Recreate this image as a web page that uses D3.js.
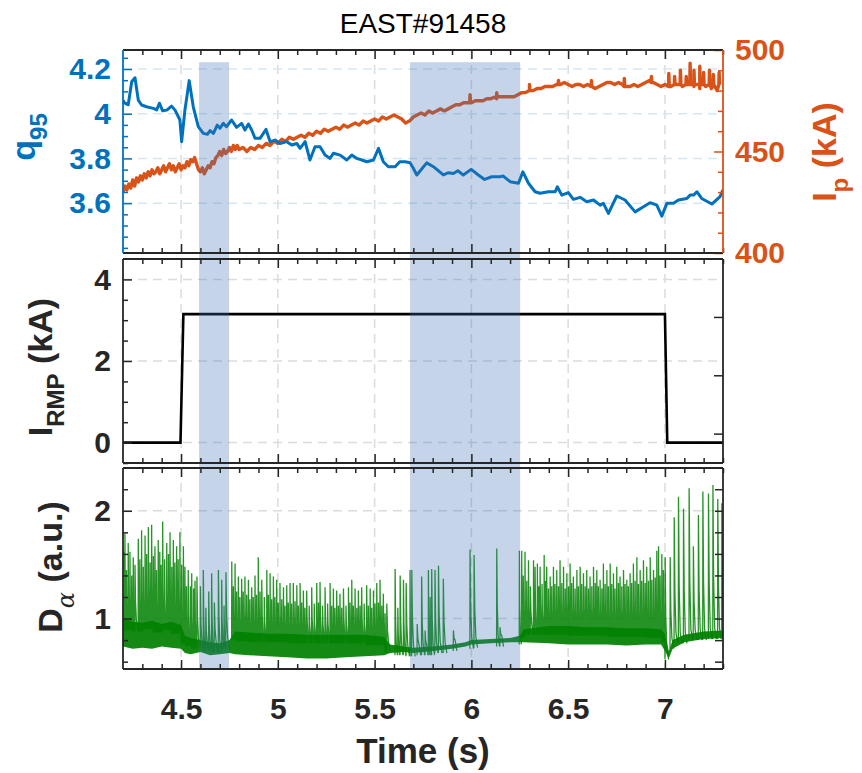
<!DOCTYPE html>
<html><head><meta charset="utf-8">
<script src="https://cdn.jsdelivr.net/npm/d3@7"></script>
<style>
body{margin:0;background:#fff}
svg{display:block}
text{font-family:"Liberation Sans",Arial,Helvetica,sans-serif}
</style>
</head><body>
<svg id="c" width="862" height="773"></svg>
<script>
// ---------------- DATA ----------------
const title = "EAST#91458";
const xTicks = [4.5, 5, 5.5, 6, 6.5, 7];
const qTicks = [3.6, 3.8, 4, 4.2];
const ipTicks = [400, 450, 500];
const rmpTicks = [0, 2, 4];
const rmpRightTicks = [0.22, 1.65, 3.08];
const daTicks = [1, 2];
const shadeStart = [4.593, 5.683];
const shadeEnd = [4.748, 6.252];

// q95 (blue, left axis of top panel)
const qTime = [4.20,4.21,4.227,4.245,4.262,4.279,4.296,4.322,4.357,4.374,4.388,4.405,4.426,4.451,4.469,4.494,4.503,4.52,4.542,4.563,4.589,4.615,4.636,4.65,4.667,4.687,4.701,4.718,4.735,4.761,4.787,4.813,4.83,4.848,4.865,4.882,4.908,4.939,4.96,4.986,5.011,5.046,5.072,5.098,5.115,5.141,5.166,5.192,5.218,5.244,5.27,5.287,5.322,5.356,5.382,5.408,5.434,5.46,5.494,5.52,5.545,5.571,5.606,5.63,5.658,5.683,5.70,5.718,5.769,5.804,5.855,5.88,5.907,5.93,5.958,5.999,6.036,6.068,6.105,6.148,6.165,6.2,6.243,6.266,6.295,6.329,6.355,6.398,6.433,6.444,6.467,6.501,6.527,6.562,6.596,6.631,6.665,6.682,6.708,6.751,6.794,6.846,6.889,6.923,6.958,6.984,7.01,7.044,7.07,7.113,7.13,7.148,7.165,7.19,7.242,7.285,7.30];
const qValue = [4.06,4.047,4.04,4.143,4.161,4.061,4.039,4.031,4.024,4.017,4.047,4.013,4.016,4.034,4.016,3.972,3.875,4.017,4.148,4.031,3.942,3.912,3.908,3.924,3.912,3.949,3.935,3.957,3.942,3.972,3.939,3.957,3.927,3.954,3.927,3.89,3.89,3.93,3.875,3.882,3.867,3.875,3.86,3.867,3.845,3.875,3.793,3.852,3.852,3.815,3.80,3.823,3.815,3.793,3.815,3.80,3.793,3.785,3.793,3.845,3.785,3.763,3.763,3.785,3.785,3.781,3.756,3.726,3.78,3.763,3.726,3.736,3.733,3.745,3.726,3.751,3.726,3.706,3.718,3.718,3.721,3.696,3.689,3.74,3.689,3.651,3.644,3.651,3.651,3.673,3.636,3.647,3.617,3.626,3.606,3.614,3.591,3.599,3.554,3.632,3.614,3.561,3.584,3.602,3.591,3.542,3.599,3.599,3.614,3.621,3.636,3.636,3.651,3.621,3.596,3.629,3.66];

// Ip (orange, right axis of top panel), kA
const ipTime = [4.20,4.21,4.22,4.23,4.24,4.25,4.26,4.27,4.28,4.29,4.30,4.31,4.32,4.33,4.34,4.35,4.36,4.37,4.38,4.39,4.40,4.41,4.42,4.43,4.44,4.45,4.46,4.47,4.48,4.49,4.50,4.51,4.52,4.53,4.54,4.55,4.56,4.57,4.58,4.59,4.60,4.61,4.62,4.63,4.64,4.65,4.66,4.67,4.68,4.69,4.70,4.71,4.72,4.73,4.74,4.75,4.76,4.77,4.78,4.79,4.80,4.82,4.84,4.86,4.88,4.90,4.92,4.94,4.96,4.98,5.00,5.02,5.04,5.06,5.08,5.10,5.12,5.14,5.16,5.18,5.20,5.22,5.24,5.26,5.28,5.30,5.32,5.34,5.36,5.38,5.40,5.42,5.44,5.46,5.48,5.50,5.52,5.54,5.56,5.58,5.60,5.62,5.64,5.66,5.68,5.70,5.72,5.74,5.76,5.78,5.80,5.82,5.84,5.86,5.88,5.90,5.92,5.94,5.96,5.98,6.00,6.02,6.04,6.06,6.08,6.10,6.13,6.15,6.18,6.20,6.22,6.24,6.26,6.28,6.30,6.32,6.34,6.36,6.38,6.40,6.42,6.44,6.46,6.48,6.50,6.52,6.54,6.56,6.58,6.60,6.62,6.64,6.66,6.68,6.70,6.72,6.74,6.76,6.78,6.80,6.82,6.84,6.86,6.88,6.90,6.92,6.94,6.96,6.98,7.00,7.03,7.06,7.09,7.12,7.15,7.18,7.21,7.24,7.27,7.30];
const ipValue = [430,433,431,434,432,436,433,437,435,438,436,439,437,440,438,441,439,440,442,439,441,443,440,442,444,441,443,440,442,444,441,443,442,445,443,446,445,447,444,441,440,442,439,441,443,442,445,444,447,448,450,448,451,449,450,452,450,453,451,453,451,452,450,452,451,453,452,454,453,455,454,456,455,457,456,457,458,457,459,458,460,459,461,460,461,462,461,463,462,463,464,463,465,464,465,466,465,467,466,467,468,467,466,464,465,467,468,469,468,470,469,470,471,470,471,472,473,473,474,474,474,475,475,475,476,476,476,477,477,477,477,478,479,479,480,480,481,481,482,482,482,483,483,484,483,482,483,483,482,483,482,481,482,483,484,484,483,484,483,482,482,483,482,483,484,485,484,483,482,483,482,483,482,483,482,481,482,481,480];
const ipSpikeTime = [5.993,6.131,6.30,6.45,6.62,6.79,6.93,7.02,7.05,7.08,7.11,7.13,7.15,7.18,7.20,7.23,7.25,7.28];
const ipSpikePeak = [478,479,483,485,485,486,487,488.5,487,490,487,493.5,490,492,489,490,488,489];

// I_RMP (black, middle panel), kA
const rmpTime = [4.20,4.497,4.512,7.00,7.012,7.30];
const rmpValue = [0,0,3.15,3.15,0,0];

// D_alpha (green, bottom panel): background band and ELM spikes (a.u.)
const daBandTime = [4.20,4.25,4.30,4.35,4.40,4.45,4.50,4.52,4.55,4.60,4.65,4.70,4.75,4.78,4.85,4.95,5.05,5.15,5.25,5.35,5.45,5.55,5.58,5.65,5.70,5.80,5.90,5.97,6.00,6.10,6.20,6.25,6.27,6.40,6.50,6.60,6.70,6.80,6.90,6.98,7.00,7.02,7.04,7.10,7.20,7.30];
const daBandLow = [0.74,0.72,0.73,0.72,0.74,0.73,0.72,0.68,0.67,0.69,0.66,0.67,0.68,0.67,0.66,0.65,0.64,0.63,0.63,0.64,0.65,0.66,0.68,0.69,0.68,0.70,0.72,0.74,0.76,0.77,0.78,0.78,0.78,0.77,0.76,0.76,0.76,0.75,0.76,0.76,0.70,0.63,0.72,0.78,0.81,0.82];
const daBandHigh = [1.00,0.97,0.96,0.98,0.95,0.97,0.94,0.84,0.82,0.80,0.78,0.77,0.80,0.88,0.87,0.86,0.86,0.85,0.85,0.85,0.85,0.83,0.76,0.74,0.73,0.74,0.76,0.78,0.80,0.81,0.82,0.84,0.90,0.93,0.93,0.92,0.92,0.91,0.91,0.90,0.86,0.70,0.80,0.85,0.88,0.89];
const elmTime = [4.206,4.21,4.218,4.227,4.236,4.245,4.253,4.262,4.279,4.287,4.296,4.305,4.314,4.322,4.331,4.34,4.348,4.357,4.365,4.373,4.382,4.39,4.397,4.405,4.415,4.426,4.435,4.443,4.452,4.46,4.468,4.477,4.485,4.494,4.503,4.512,
4.52,4.528,4.537,4.548,4.555,4.565,4.572,4.582,
4.60,4.615,4.628,4.643,4.658,4.672,4.693,4.71,4.722,4.732,
4.762,4.770,4.779,4.787,4.796,4.804,4.813,4.821,4.83,4.839,4.848,4.856,4.865,4.873,4.882,4.89,4.899,4.908,4.917,4.93,4.943,4.951,4.96,4.968,4.977,4.985,4.994,5.002,5.011,5.02,5.029,5.037,5.046,5.054,5.063,5.071,5.08,5.089,5.098,5.106,5.115,5.123,5.132,5.14,5.149,5.162,5.175,5.188,5.201,5.21,5.218,5.231,5.244,5.257,5.27,5.278,5.287,5.295,5.304,5.313,5.321,5.33,5.339,5.352,5.365,5.373,5.382,5.39,5.399,5.408,5.416,5.425,5.433,5.446,5.459,5.468,5.477,5.485,5.494,5.502,5.511,5.52,5.528,5.537,5.545,5.554,5.563,5.606,5.62,5.632,5.649,5.663,5.683,
5.692,5.72,5.743,5.761,5.778,5.787,5.795,5.812,5.83,5.855,5.907,5.993,6.014,6.131,6.148,6.248,
6.26,6.268,6.277,6.286,6.295,6.305,6.321,6.329,6.341,6.348,6.355,6.365,6.376,6.382,6.389,6.398,6.407,6.415,6.424,6.432,6.441,6.45,6.458,6.467,6.476,6.485,6.493,6.502,6.51,6.518,6.527,6.536,6.545,6.553,6.562,6.57,6.579,6.588,6.596,6.605,6.613,6.622,6.631,6.64,6.648,6.656,6.665,6.674,6.682,6.691,6.70,6.708,6.717,6.725,6.734,6.742,6.751,6.76,6.768,6.777,6.786,6.794,6.803,6.811,6.82,6.828,6.837,6.846,6.855,6.863,6.872,6.88,6.889,6.898,6.906,6.915,6.924,6.932,6.941,6.95,6.958,6.967,6.975,6.984,6.992,7.001,
7.027,7.048,7.07,7.096,7.125,7.147,7.173,7.196,7.225,7.248,7.273,7.294];
const elmPeak = [1.62,1.79,1.45,1.70,1.62,1.40,1.57,1.50,1.74,1.55,1.82,1.48,1.77,1.60,1.85,1.52,1.87,1.58,1.67,1.45,1.73,1.62,1.50,1.90,1.55,1.70,1.60,1.80,1.48,1.73,1.52,1.67,1.55,1.80,1.50,1.67,
1.48,1.30,1.45,1.30,1.42,1.28,1.35,1.39,
1.30,1.45,1.10,1.25,1.42,1.15,1.45,1.36,1.12,1.43,
1.53,1.30,1.51,1.25,1.39,1.20,1.37,1.25,1.39,1.22,1.36,1.18,1.29,1.20,1.40,1.22,1.57,1.25,1.36,1.20,1.45,1.22,1.42,1.18,1.39,1.20,1.36,1.15,1.33,1.18,1.29,1.12,1.31,1.15,1.33,1.14,1.33,1.16,1.31,1.12,1.33,1.15,1.26,1.10,1.26,1.12,1.29,1.14,1.33,1.15,1.34,1.12,1.29,1.14,1.33,1.12,1.28,1.10,1.26,1.12,1.23,1.10,1.28,1.12,1.29,1.15,1.36,1.12,1.28,1.10,1.26,1.12,1.29,1.14,1.31,1.12,1.28,1.10,1.26,1.14,1.33,1.15,1.36,1.12,1.23,1.05,1.14,1.46,1.10,1.40,1.36,1.33,1.45,
1.45,0.95,1.39,0.89,1.45,1.20,1.46,1.45,1.49,1.37,0.89,1.64,1.59,1.65,0.92,1.63,
1.63,1.40,1.62,1.35,1.54,1.30,1.54,1.48,1.51,1.30,1.48,1.32,1.59,1.35,1.48,1.28,1.39,1.30,1.48,1.32,1.45,1.30,1.54,1.33,1.48,1.28,1.42,1.30,1.51,1.33,1.39,1.28,1.45,1.30,1.48,1.32,1.42,1.30,1.45,1.28,1.39,1.30,1.48,1.33,1.45,1.30,1.36,1.28,1.51,1.32,1.45,1.30,1.51,1.32,1.42,1.28,1.48,1.33,1.39,1.30,1.45,1.32,1.36,1.30,1.42,1.33,1.51,1.35,1.57,1.32,1.45,1.35,1.54,1.33,1.48,1.35,1.57,1.36,1.45,1.38,1.63,1.67,1.40,1.60,1.45,1.57,
1.57,1.94,2.13,2.02,2.21,1.67,1.96,2.18,2.16,2.24,2.11,2.07];

// ---------------- CHART ----------------
const C_BLUE = "#0072bd", C_ORANGE = "#d95319", C_DARK = "#262626", C_GREEN = "#008000";
const TICK_FONT = 30, LABEL_FONT = 34, SUB_FONT = 24;
const svg = d3.select("#c");
const x = d3.scaleLinear().domain([4.2, 7.3]).range([123, 723]);
const panels = { top: [50, 253], mid: [259, 463], bot: [468, 669] };
const yQ = d3.scaleLinear().domain([3.377, 4.285]).range([253, 50]);
const yIp = d3.scaleLinear().domain([400, 500]).range([253, 50]);
const yR = d3.scaleLinear().domain([-0.5, 4.5]).range([463, 259]);
const yD = d3.scaleLinear().domain([0.532, 2.397]).range([669, 468]);

const xMinor = d3.range(43, 74).map(d => d / 10).filter(d => !xTicks.some(t => Math.abs(t - d) < 1e-6));

const defs = svg.append("defs");
Object.entries(panels).forEach(([k, [y0, y1]]) => {
  defs.append("clipPath").attr("id", "clip-" + k).append("rect")
    .attr("x", x.range()[0]).attr("y", y0).attr("width", x.range()[1] - x.range()[0]).attr("height", y1 - y0);
});

// grids
const gGrid = svg.append("g");
Object.values(panels).forEach(([y0, y1]) => {
  gGrid.selectAll(null).data(xTicks).enter().append("line")
    .attr("x1", d => x(d)).attr("x2", d => x(d)).attr("y1", y0).attr("y2", y1)
    .attr("stroke", "#dcdcdc").attr("stroke-width", 1.5).attr("stroke-dasharray", "9,6");
});
function hGrid(scale, vals, color) {
  gGrid.selectAll(null).data(vals).enter().append("line")
    .attr("x1", x.range()[0]).attr("x2", x.range()[1]).attr("y1", d => scale(d)).attr("y2", d => scale(d))
    .attr("stroke", color).attr("stroke-width", 1.5).attr("stroke-dasharray", "9,6");
}
hGrid(yQ, qTicks, "#d6e7f4");
hGrid(yR, rmpTicks, "#dcdcdc");
hGrid(yD, daTicks, "#dcdcdc");

// ---- top panel data
const gTop = svg.append("g").attr("clip-path", "url(#clip-top)");
let ipPts = ipTime.map((t, i) => [t, ipValue[i]]);
const bis = d3.bisector(d => d[0]).left;
ipSpikeTime.forEach((t, i) => {
  const j = Math.min(bis(ipPts, t), ipPts.length - 1);
  const base = ipPts[j][1];
  ipPts.push([t - 0.0015, base], [t, ipSpikePeak[i]], [t + 0.0025, base]);
});
ipPts.sort((a, b) => a[0] - b[0]);
gTop.append("path").datum(ipPts)
  .attr("d", d3.line().x(d => x(d[0])).y(d => yIp(d[1])))
  .attr("fill", "none").attr("stroke", C_ORANGE).attr("stroke-width", 3.4).attr("stroke-linejoin", "round");
gTop.append("path").datum(qTime.map((t, i) => [t, qValue[i]]))
  .attr("d", d3.line().x(d => x(d[0])).y(d => yQ(d[1])))
  .attr("fill", "none").attr("stroke", C_BLUE).attr("stroke-width", 3).attr("stroke-linejoin", "round");

// ---- middle panel data
const gMid = svg.append("g").attr("clip-path", "url(#clip-mid)");
gMid.append("path").datum(rmpTime.map((t, i) => [t, rmpValue[i]]))
  .attr("d", d3.line().x(d => x(d[0])).y(d => yR(d[1])))
  .attr("fill", "none").attr("stroke", "#000").attr("stroke-width", 2.6);

// ---- bottom panel data
const gBot = svg.append("g").attr("clip-path", "url(#clip-bot)");
const band = daBandTime.map((t, i) => ({ t, lo: daBandLow[i], hi: daBandHigh[i] }));
gBot.append("path").datum(band)
  .attr("d", d3.area().x(d => x(d.t)).y0(d => yD(d.lo)).y1(d => yD(d.hi)))
  .attr("fill", C_GREEN).attr("opacity", 0.92);
const bandBis = d3.bisector(d => d.t).left;
let spikePath = "";
elmTime.forEach((t, i) => {
  const j = Math.min(bandBis(band, t), band.length - 1);
  const base = band[j].hi;
  const next = i < elmTime.length - 1 ? elmTime[i + 1] : t + 0.02;
  const dec = Math.min((next - t) * 0.85, 0.018);
  const p = elmPeak[i];
  spikePath += `M${x(t - 0.0008)},${yD(base - 0.08)}L${x(t)},${yD(p)}L${x(t + dec * 0.2)},${yD(base + (p - base) * 0.35)}L${x(t + dec * 0.5)},${yD(base + 0.02)}L${x(t + dec)},${yD(base - 0.08)}`;
});
gBot.append("path").attr("d", spikePath)
  .attr("fill", "none").attr("stroke", C_GREEN).attr("stroke-width", 1.3).attr("opacity", 0.85);

// ---- shaded intervals
const gShade = svg.append("g");
gShade.selectAll("rect").data(shadeStart).enter().append("rect")
  .attr("x", d => x(d)).attr("width", (d, i) => x(shadeEnd[i]) - x(d))
  .attr("y", yIp(494)).attr("height", yD.range()[0] - yIp(494))
  .attr("fill", "#3e70b2").attr("opacity", 0.3);

// ---- axes
function styleAxis(g, color) {
  g.select(".domain").remove();
  g.selectAll(".tick line").attr("stroke", color).attr("stroke-width", 1.5);
  g.selectAll(".tick text").attr("fill", color).attr("font-size", TICK_FONT).attr("font-weight", "bold")
    .attr("font-family", '"Liberation Sans",Arial,sans-serif');
}
function yAxis(scale, side, major, minor, color, labels, minorLen) {
  const xpos = side === "left" ? x.range()[0] : x.range()[1];
  const gen = side === "left" ? d3.axisLeft : d3.axisRight;
  const g1 = svg.append("g").attr("transform", `translate(${xpos},0)`)
    .call(gen(scale).tickValues(major).tickSize(-9).tickPadding(12).tickFormat(labels ? d3.format("~g") : ""));
  styleAxis(g1, color);
  if (minor.length) {
    const g2 = svg.append("g").attr("transform", `translate(${xpos},0)`)
      .call(gen(scale).tickValues(minor).tickSize(-(minorLen || 5)).tickFormat(""));
    styleAxis(g2, color);
  }
}
function xAxes(y0, y1, labels) {
  const a = svg.append("g").attr("transform", `translate(0,${y0})`)
    .call(d3.axisTop(x).tickValues(xTicks).tickSize(-9).tickFormat(""));
  styleAxis(a, C_DARK);
  const b = svg.append("g").attr("transform", `translate(0,${y0})`)
    .call(d3.axisTop(x).tickValues(xMinor).tickSize(-5).tickFormat(""));
  styleAxis(b, C_DARK);
  const c = svg.append("g").attr("transform", `translate(0,${y1})`)
    .call(d3.axisBottom(x).tickValues(xTicks).tickSize(-9).tickPadding(29).tickFormat(labels ? d3.format("~g") : ""));
  styleAxis(c, C_DARK);
  const d = svg.append("g").attr("transform", `translate(0,${y1})`)
    .call(d3.axisBottom(x).tickValues(xMinor).tickSize(-5).tickFormat(""));
  styleAxis(d, C_DARK);
}
function frame(y0, y1, leftColor, rightColor) {
  const [xa, xb] = x.range();
  svg.append("line").attr("x1", xa).attr("x2", xb).attr("y1", y0).attr("y2", y0).attr("stroke", C_DARK).attr("stroke-width", 1.8);
  svg.append("line").attr("x1", xa).attr("x2", xb).attr("y1", y1).attr("y2", y1).attr("stroke", C_DARK).attr("stroke-width", 1.8);
  svg.append("line").attr("x1", xa).attr("x2", xa).attr("y1", y0).attr("y2", y1).attr("stroke", leftColor).attr("stroke-width", 1.8);
  svg.append("line").attr("x1", xb).attr("x2", xb).attr("y1", y0).attr("y2", y1).attr("stroke", rightColor).attr("stroke-width", 1.8);
}

// top panel axes
const qMinor = d3.range(68, 86).map(d => d * 0.05).filter(v => v >= 3.38 && v <= 4.28 && !qTicks.some(t => Math.abs(t - v) < 1e-6));
const ipMinor = d3.range(401, 500).filter(v => v % 10 === 0 && !ipTicks.includes(v));
xAxes(panels.top[0], panels.top[1], false);
yAxis(yQ, "left", qTicks, qMinor, C_BLUE, true);
yAxis(yIp, "right", ipTicks, ipMinor, C_ORANGE, true);
frame(panels.top[0], panels.top[1], C_BLUE, C_ORANGE);

// middle panel axes
const rMinor = d3.range(-1, 9).map(d => d * 0.5).filter(v => !rmpTicks.includes(v));
xAxes(panels.mid[0], panels.mid[1], false);
yAxis(yR, "left", rmpTicks, rMinor, C_DARK, true);
yAxis(yR, "right", rmpRightTicks, [], C_DARK, false);
frame(panels.mid[0], panels.mid[1], C_DARK, C_DARK);

// bottom panel axes
const dMinor = d3.range(3, 13).map(d => +(d * 0.2).toFixed(1)).filter(v => !daTicks.includes(v));
const dRight = d3.range(3, 13).map(d => +(d * 0.2).toFixed(1));
xAxes(panels.bot[0], panels.bot[1], true);
yAxis(yD, "left", daTicks, dMinor, C_DARK, true);
yAxis(yD, "right", [], dRight, C_DARK, false, 8);
frame(panels.bot[0], panels.bot[1], C_DARK, C_DARK);

// ---- texts
svg.append("text").attr("x", 423).attr("y", 33).attr("text-anchor", "middle")
  .attr("font-size", 28).attr("fill", "#000").text(title);
svg.append("text").attr("x", 423).attr("y", 763).attr("text-anchor", "middle")
  .attr("font-size", 35).attr("font-weight", "bold").attr("fill", C_DARK).text("Time (s)");

function ylabel(xp, yp, color, main, sub, rest) {
  const t = svg.append("text").attr("transform", `translate(${xp},${yp}) rotate(-90)`)
    .attr("text-anchor", "middle").attr("font-size", LABEL_FONT).attr("font-weight", "bold").attr("fill", color);
  t.append("tspan").text(main);
  t.append("tspan").attr("dy", 12).attr("font-size", SUB_FONT).text(sub);
  if (rest) t.append("tspan").attr("dy", -12).text(rest);
}
ylabel(35, 137, C_BLUE, "q", "95", "");
ylabel(836, 152, C_ORANGE, "I", "p", " (kA)");
ylabel(52, 367, C_DARK, "I", "RMP", " (kA)");
const tD = svg.append("text").attr("transform", `translate(62,567) rotate(-90)`)
  .attr("text-anchor", "middle").attr("font-size", LABEL_FONT).attr("font-weight", "bold").attr("fill", C_DARK);
tD.append("tspan").text("D");
tD.append("tspan").attr("dy", 12).attr("font-size", SUB_FONT).attr("font-weight", "normal")
  .attr("font-style", "italic").attr("font-family", '"DejaVu Serif",serif').text("α");
tD.append("tspan").attr("dy", -12).text(" (a.u.)");
</script>
</body></html>
